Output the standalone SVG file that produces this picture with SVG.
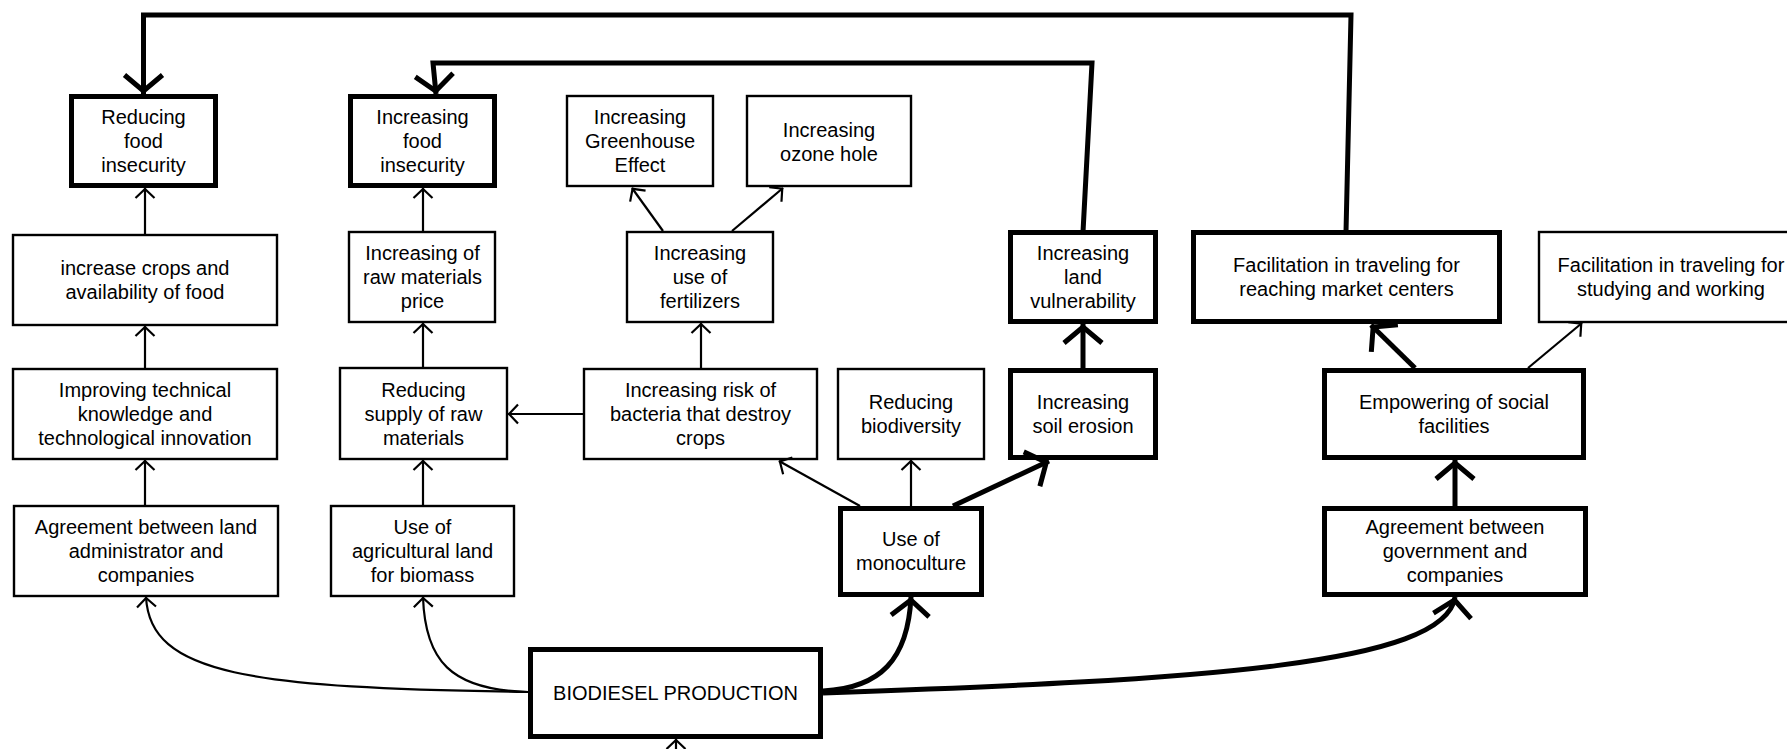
<svg xmlns="http://www.w3.org/2000/svg" width="1787" height="749" viewBox="0 0 1787 749">
<style>
.tn{fill:#fff;stroke:#000;stroke-width:2.4}
.tk{fill:#fff;stroke:#000;stroke-width:5}
text{font-family:"Liberation Sans",Arial,Helvetica,sans-serif;font-size:20px;text-anchor:middle;fill:#000}
.c{fill:none;stroke:#000;stroke-width:2.2;marker-end:url(#a)}
.C{fill:none;stroke:#000;stroke-width:5;stroke-linejoin:miter;marker-end:url(#A)}
</style>
<defs>
<marker id="a" markerUnits="userSpaceOnUse" markerWidth="20" markerHeight="20" refX="1" refY="0" orient="auto" style="overflow:visible"><path d="M-9,-9.5 L0,0 L-9,9.5" fill="none" stroke="#000" stroke-width="2.2"/></marker>
<marker id="A" markerUnits="userSpaceOnUse" markerWidth="40" markerHeight="40" refX="3" refY="0" orient="auto" style="overflow:visible"><path d="M-16,-19 L0,0 L-16,19" fill="none" stroke="#000" stroke-width="5"/></marker>
</defs>
<rect width="1787" height="749" fill="#fff"/>
<g id="nodes">
<g id="n-reducing-food"><rect class="tk" x="71.5" y="96.5" width="144" height="89"/><text><tspan x="143.5" y="124">Reducing</tspan><tspan x="143.5" y="148">food</tspan><tspan x="143.5" y="172">insecurity</tspan></text></g>
<g id="n-increasing-food"><rect class="tk" x="350.5" y="96.5" width="144" height="89"/><text><tspan x="422.5" y="124">Increasing</tspan><tspan x="422.5" y="148">food</tspan><tspan x="422.5" y="172">insecurity</tspan></text></g>
<g id="n-greenhouse"><rect class="tn" x="567" y="96" width="146" height="90"/><text><tspan x="640" y="124">Increasing</tspan><tspan x="640" y="148">Greenhouse</tspan><tspan x="640" y="172">Effect</tspan></text></g>
<g id="n-ozone"><rect class="tn" x="747" y="96" width="164" height="90"/><text><tspan x="829" y="137">Increasing</tspan><tspan x="829" y="161">ozone hole</tspan></text></g>
<g id="n-crops"><rect class="tn" x="13" y="235" width="264" height="90"/><text><tspan x="145" y="275">increase crops and</tspan><tspan x="145" y="299">availability of food</tspan></text></g>
<g id="n-raw-price"><rect class="tn" x="349" y="232" width="146" height="90"/><text><tspan x="422.5" y="260">Increasing of</tspan><tspan x="422.5" y="284">raw materials</tspan><tspan x="422.5" y="308">price</tspan></text></g>
<g id="n-fertilizers"><rect class="tn" x="627" y="232" width="146" height="90"/><text><tspan x="700" y="260">Increasing</tspan><tspan x="700" y="284">use of</tspan><tspan x="700" y="308">fertilizers</tspan></text></g>
<g id="n-land-vuln"><rect class="tk" x="1010.5" y="232.5" width="145" height="89"/><text><tspan x="1083" y="260">Increasing</tspan><tspan x="1083" y="284">land</tspan><tspan x="1083" y="308">vulnerability</tspan></text></g>
<g id="n-market"><rect class="tk" x="1193.5" y="232.5" width="306" height="89"/><text><tspan x="1346.5" y="272">Facilitation in traveling for</tspan><tspan x="1346.5" y="296">reaching market centers</tspan></text></g>
<g id="n-studying"><rect class="tn" x="1539" y="232" width="268" height="90"/><text><tspan x="1671" y="272">Facilitation in traveling for</tspan><tspan x="1671" y="296">studying and working</tspan></text></g>
<g id="n-improving"><rect class="tn" x="13" y="369" width="264" height="90"/><text><tspan x="145" y="397">Improving technical</tspan><tspan x="145" y="421">knowledge and</tspan><tspan x="145" y="445">technological innovation</tspan></text></g>
<g id="n-supply"><rect class="tn" x="340" y="368" width="167" height="91"/><text><tspan x="423.5" y="397">Reducing</tspan><tspan x="423.5" y="421">supply of raw</tspan><tspan x="423.5" y="445">materials</tspan></text></g>
<g id="n-bacteria"><rect class="tn" x="584" y="369" width="233" height="90"/><text><tspan x="700.5" y="397">Increasing risk of</tspan><tspan x="700.5" y="421">bacteria that destroy</tspan><tspan x="700.5" y="445">crops</tspan></text></g>
<g id="n-biodiversity"><rect class="tn" x="838" y="369" width="146" height="90"/><text><tspan x="911" y="409">Reducing</tspan><tspan x="911" y="433">biodiversity</tspan></text></g>
<g id="n-soil"><rect class="tk" x="1010.5" y="370.5" width="145" height="87"/><text><tspan x="1083" y="409">Increasing</tspan><tspan x="1083" y="433">soil erosion</tspan></text></g>
<g id="n-empowering"><rect class="tk" x="1324.5" y="370.5" width="259" height="87"/><text><tspan x="1454" y="409">Empowering of social</tspan><tspan x="1454" y="433">facilities</tspan></text></g>
<g id="n-agreement-land"><rect class="tn" x="14" y="506" width="264" height="90"/><text><tspan x="146" y="534">Agreement between land</tspan><tspan x="146" y="558">administrator and</tspan><tspan x="146" y="582">companies</tspan></text></g>
<g id="n-agri-land"><rect class="tn" x="331" y="506" width="183" height="90"/><text><tspan x="422.5" y="534">Use of</tspan><tspan x="422.5" y="558">agricultural land</tspan><tspan x="422.5" y="582">for biomass</tspan></text></g>
<g id="n-monoculture"><rect class="tk" x="840.5" y="508.5" width="141" height="86"/><text><tspan x="911" y="546">Use of</tspan><tspan x="911" y="570">monoculture</tspan></text></g>
<g id="n-gov"><rect class="tk" x="1324.5" y="508.5" width="261" height="86"/><text><tspan x="1455" y="534">Agreement between</tspan><tspan x="1455" y="558">government and</tspan><tspan x="1455" y="582">companies</tspan></text></g>
<g id="n-biodiesel"><rect class="tk" x="530.5" y="649.5" width="290" height="87"/><text x="675.5" y="700">BIODIESEL PRODUCTION</text></g>
</g>
<g id="connectors">
<path class="C" d="M1346,232 L1351,15 L143.5,15 L143.5,94"/>
<path class="C" d="M1083,232 L1092,63 L433,63 L436,94"/>
<path class="C" d="M1083,368 L1083,324"/>
<path class="C" d="M953,506 L1049,461"/>
<path class="C" d="M1415,368 L1371,325"/>
<path class="C" d="M1455,506 L1455,460"/>
<path class="C" d="M823,691 C880,688 908,660 911,597"/>
<path class="C" d="M823,693 C1200,680 1445,665 1455,597"/>
<path class="c" d="M145,234 L145,188"/>
<path class="c" d="M145,368 L145,326"/>
<path class="c" d="M145,505 L145,460"/>
<path class="c" d="M423,231 L423,188"/>
<path class="c" d="M423,367 L423,323"/>
<path class="c" d="M423,505 L423,460"/>
<path class="c" d="M583,414 L508,414"/>
<path class="c" d="M701,368 L701,323"/>
<path class="c" d="M663,231 L632,188"/>
<path class="c" d="M732,231 L783,188"/>
<path class="c" d="M860,506 L779,461"/>
<path class="c" d="M911,506 L911,460"/>
<path class="c" d="M1528,368 L1582,323"/>
<path class="c" d="M528,692 C250,688 150,675 146,597"/>
<path class="c" d="M528,692 C450,690 425,660 423,597"/>
<path class="c" d="M676,765 L676,739"/>
</g>
</svg>
